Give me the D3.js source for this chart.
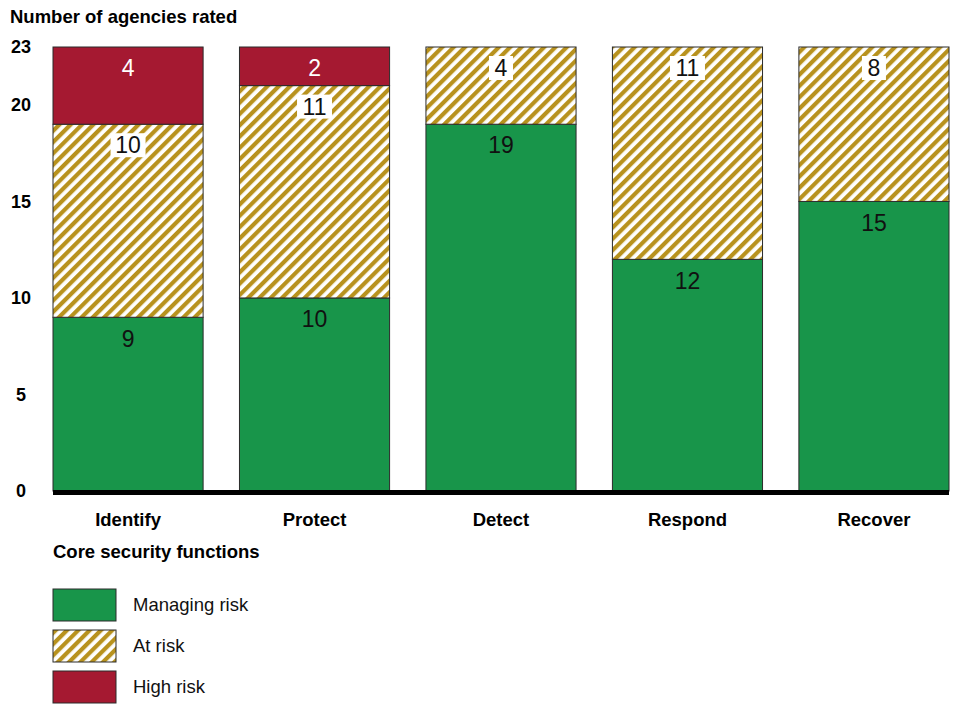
<!DOCTYPE html>
<html>
<head>
<meta charset="utf-8">
<script src="https://cdn.jsdelivr.net/npm/d3@7"></script>
<style>
  body { margin: 0; background: #fff; }
  svg { font-family: "Liberation Sans", Arial, sans-serif; }
</style>
</head>
<body>
<div id="chart"></div>
<script>
var categories = ["Identify", "Protect", "Detect", "Respond", "Recover"];
var managingRisk = [9, 10, 19, 12, 15];
var atRisk = [10, 11, 4, 11, 8];
var highRisk = [4, 2, 0, 0, 0];
var yTicks = [0, 5, 10, 15, 20, 23];
var seriesNames = ["Managing risk", "At risk", "High risk"];

var green = "#18954a", gold = "#b8921e", red = "#a51931";

var svg = d3.select("#chart").append("svg")
  .attr("width", 956)
  .attr("height", 705);

// hatch pattern for "At risk"
var defs = svg.append("defs");
var pat = defs.append("pattern")
  .attr("id", "hatch")
  .attr("patternUnits", "userSpaceOnUse")
  .attr("width", 8)
  .attr("height", 8)
  .attr("patternTransform", "rotate(45)");
pat.append("rect").attr("width", 8).attr("height", 8).attr("fill", "#fff");
pat.append("rect").attr("x", 0).attr("width", 4.2).attr("height", 8).attr("fill", gold);

var x = d3.scaleBand()
  .domain(categories)
  .range([53, 949])
  .paddingInner(0.195)
  .paddingOuter(0);

var y = d3.scaleLinear()
  .domain([0, 23])
  .range([491, 47]);

// stack data
var rows = categories.map(function(c, i) {
  return { cat: c, managing: managingRisk[i], at: atRisk[i], high: highRisk[i] };
});
var stack = d3.stack().keys(["managing", "at", "high"]);
var series = stack(rows);
var fills = { managing: green, at: "url(#hatch)", high: red };

series.forEach(function(s) {
  svg.append("g").selectAll("rect")
    .data(s.filter(function(d) { return d[1] - d[0] > 0; }))
    .enter().append("rect")
    .attr("x", function(d) { return x(d.data.cat); })
    .attr("y", function(d) { return y(d[1]); })
    .attr("width", x.bandwidth())
    .attr("height", function(d) { return y(d[0]) - y(d[1]); })
    .attr("fill", fills[s.key])
    .attr("stroke", "#2b2b2b")
    .attr("stroke-width", 1);
});

// value labels
series.forEach(function(s) {
  var g = svg.append("g");
  s.forEach(function(d) {
    var v = d[1] - d[0];
    if (v <= 0) return;
    var cx = x(d.data.cat) + x.bandwidth() / 2;
    var cy = y(d[1]) + 21;
    var txt = String(v);
    if (s.key == "at") {
      var w = txt.length > 1 ? 35 : 24;
      g.append("rect")
        .attr("x", cx - w / 2)
        .attr("y", cy - 12)
        .attr("width", w)
        .attr("height", 24)
        .attr("fill", "#fff");
    }
    g.append("text")
      .attr("x", cx)
      .attr("y", cy)
      .attr("dy", "0.36em")
      .attr("text-anchor", "middle")
      .attr("font-size", 23)
      .attr("fill", s.key == "high" ? "#fff" : "#111")
      .text(txt);
  });
});

// baseline
svg.append("line")
  .attr("x1", 53).attr("x2", 949)
  .attr("y1", y(0) + 1.5).attr("y2", y(0) + 1.5)
  .attr("stroke", "#000")
  .attr("stroke-width", 5);

// y axis labels
svg.append("g").selectAll("text")
  .data(yTicks)
  .enter().append("text")
  .attr("x", 21)
  .attr("y", function(d) { return y(d); })
  .attr("dy", "0.35em")
  .attr("text-anchor", "middle")
  .attr("font-size", 18)
  .attr("font-weight", "bold")
  .text(function(d) { return d; });

// x axis labels
svg.append("g").selectAll("text")
  .data(categories)
  .enter().append("text")
  .attr("x", function(d) { return x(d) + x.bandwidth() / 2; })
  .attr("y", 520)
  .attr("dy", "0.35em")
  .attr("text-anchor", "middle")
  .attr("font-size", 18.5)
  .attr("font-weight", "bold")
  .text(function(d) { return d; });

svg.append("text")
  .attr("x", 10).attr("y", 17)
  .attr("dy", "0.35em")
  .attr("font-size", 18.5)
  .attr("font-weight", "bold")
  .text("Number of agencies rated");

svg.append("text")
  .attr("x", 53).attr("y", 552)
  .attr("dy", "0.35em")
  .attr("font-size", 18.5)
  .attr("font-weight", "bold")
  .text("Core security functions");

// legend
var legendFills = [green, "url(#hatch)", red];
var lg = svg.append("g").selectAll("g")
  .data(seriesNames)
  .enter().append("g")
  .attr("transform", function(d, i) { return "translate(53," + (589 + i * 41) + ")"; });
lg.append("rect")
  .attr("width", 63).attr("height", 32)
  .attr("fill", function(d, i) { return legendFills[i]; })
  .attr("stroke", "#2b2b2b")
  .attr("stroke-width", 1);
lg.append("text")
  .attr("x", 80).attr("y", 16)
  .attr("dy", "0.35em")
  .attr("font-size", 18.5)
  .attr("fill", "#111")
  .text(function(d) { return d; });
</script>
</body>
</html>
